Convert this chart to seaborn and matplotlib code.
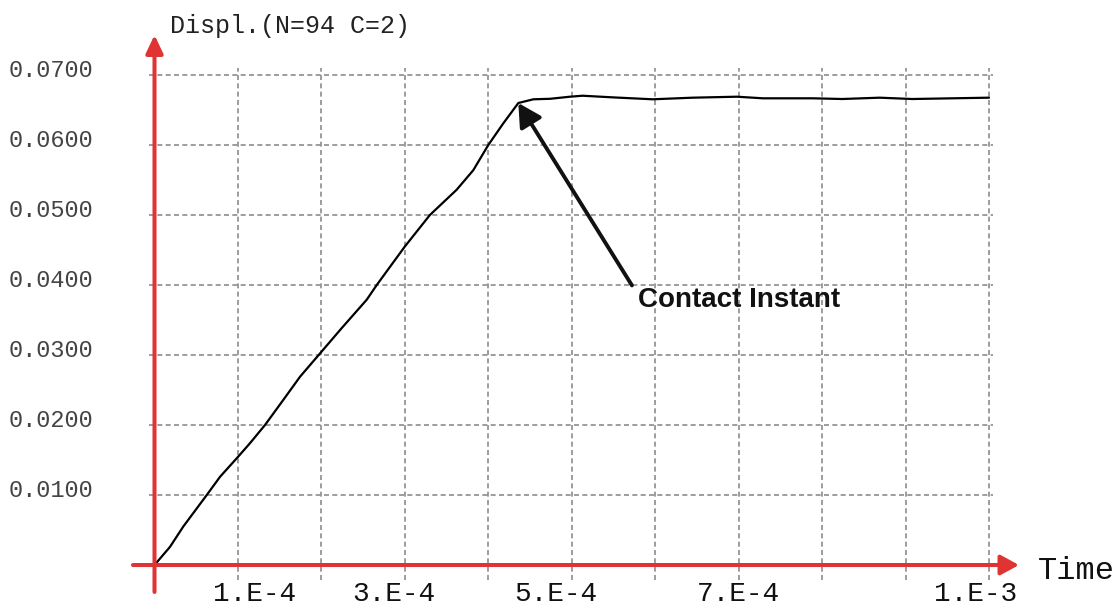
import matplotlib
matplotlib.use("Agg")
import matplotlib.pyplot as plt
import seaborn as sns
import pandas as pd
from matplotlib import font_manager
from matplotlib.transforms import ScaledTranslation

# Displacement history of node 94, component 2 (time in units of 1e-4 s)
time_e4 = [0.000, 0.186, 0.345, 0.626, 0.785, 1.004, 1.144, 1.324, 1.544,
           1.744, 2.003, 2.240, 2.543, 2.663, 3.000, 3.300, 3.620, 3.820,
           4.000, 4.180, 4.360, 4.540, 4.740, 4.980, 5.130, 5.500, 5.970,
           6.450, 6.980, 7.290, 7.890, 8.240, 8.690, 9.080, 10.000]
displ = [0.0000, 0.0026, 0.0055, 0.0100, 0.0126, 0.0155, 0.0174, 0.0200,
         0.0236, 0.0269, 0.0305, 0.0338, 0.0379, 0.0400, 0.0455, 0.0500,
         0.0536, 0.0564, 0.0600, 0.0631, 0.0660, 0.06653, 0.0666, 0.0669,
         0.06704, 0.0668, 0.06653, 0.06676, 0.0669, 0.06667, 0.06667,
         0.06657, 0.06676, 0.06657, 0.06676]
contact_index = 20  # first point of the plateau

grid_x = [0.0, 1e-4, 2e-4, 3e-4, 4e-4, 5e-4, 6e-4, 7e-4, 8e-4, 9e-4, 1e-3]
grid_y = [0.0, 0.01, 0.02, 0.03, 0.04, 0.05, 0.06, 0.07]
x_tick_values = [1e-4, 3e-4, 5e-4, 7e-4, 1e-3]
x_tick_labels = ["1.E-4", "3.E-4", "5.E-4", "7.E-4", "1.E-3"]
y_tick_values = [0.01, 0.02, 0.03, 0.04, 0.05, 0.06, 0.07]
y_tick_labels = ["0.0100", "0.0200", "0.0300", "0.0400", "0.0500", "0.0600", "0.0700"]

# horizontal nudges (pixels) of the time labels
x_label_shift_px = [17, -11, -16, 0, -13]

sns.set_theme(style="white")
plt.rcParams["font.family"] = ["Liberation Mono", "DejaVu Sans Mono"]

RED = "#e03434"
GRID = "#8c8c8c"
DPI = 100

df = pd.DataFrame({"time": [t * 1e-4 for t in time_e4], "displ": displ})

fig = plt.figure(figsize=(11.2, 6.13), dpi=DPI)
fig.patch.set_facecolor("white")
ax = fig.add_axes([149 / 1120, 33 / 613, 844 / 1120, 512 / 613])
ax.set_facecolor("white")

ax.set_xlim(-6.6e-6, 1.0048e-3)
ax.set_ylim(-0.00214, 0.0710)

for s in ax.spines.values():
    s.set_visible(False)


def label_for(value, values, labels):
    for v, lab in zip(values, labels):
        if abs(v - value) < 1e-12:
            return lab
    return ""


# dashed reference grid on every tick, labels only on some
ax.set_xticks(grid_x)
ax.set_xticklabels([label_for(v, x_tick_values, x_tick_labels) for v in grid_x],
                   fontsize=20, color="#111111")
ax.set_yticks(grid_y)
ax.set_yticklabels([label_for(v, y_tick_values, y_tick_labels) for v in grid_y],
                   fontsize=17, color="#444444")
ax.grid(which="major", color=GRID, linestyle=(0, (3, 2)), linewidth=1.2)
ax.tick_params(which="both", length=0)
ax.tick_params(axis="x", pad=1)
ax.tick_params(axis="y", pad=40)

shift_iter = iter(x_label_shift_px)
for lab in ax.get_xticklabels():
    if lab.get_text():
        dx = next(shift_iter)
        lab.set_transform(lab.get_transform() + ScaledTranslation(dx / DPI, 0, fig.dpi_scale_trans))
for lab in ax.get_yticklabels():
    lab.set_transform(lab.get_transform() + ScaledTranslation(0, 7 / DPI, fig.dpi_scale_trans))

sns.lineplot(data=df, x="time", y="displ", color="black", linewidth=1.6, ax=ax,
             zorder=4, sort=False)
ax.set_xlabel("")
ax.set_ylabel("")

# red coordinate axes with arrow heads
ax.annotate("", xy=(1.0308, 0.0), xytext=(-0.019, 0.0),
            xycoords=("axes fraction", "data"), textcoords=("axes fraction", "data"),
            arrowprops=dict(arrowstyle="-|>,head_length=0.55,head_width=0.3",
                            mutation_scale=20, color=RED, lw=2.9,
                            shrinkA=0, shrinkB=0),
            annotation_clip=False, zorder=5)
ax.annotate("", xy=(0.0, 1.0645), xytext=(0.0, -0.0234),
            xycoords=("data", "axes fraction"), textcoords=("data", "axes fraction"),
            arrowprops=dict(arrowstyle="-|>,head_length=0.55,head_width=0.26",
                            mutation_scale=20, color=RED, lw=2.9,
                            shrinkA=0, shrinkB=0),
            annotation_clip=False, zorder=5)

fig.text(170 / 1120, 1 - 26 / 613, "Displ.(N=94 C=2)", fontsize=18,
         color="#222222", va="center", ha="left")
fig.text(1038 / 1120, 1 - 571 / 613, "Time", fontsize=23,
         color="#111111", va="center", ha="left")

# callout for the contact instant
names = {f.name for f in font_manager.fontManager.ttflist}
if "Liberation Sans Narrow" in names:
    callout_font = dict(family="Liberation Sans Narrow", size=25)
else:
    callout_font = dict(family="Liberation Sans", size=20)

ax.annotate("Contact Instant",
            xy=(df["time"][contact_index], df["displ"][contact_index]),
            xytext=(5.794e-4, 0.0379), textcoords="data",
            ha="left", va="center", fontweight="bold", color="#111111",
            arrowprops=dict(arrowstyle="-|>,head_length=0.7,head_width=0.38",
                            mutation_scale=20, color="#111111", lw=2.8,
                            shrinkA=0, shrinkB=0, relpos=(-0.03, 1.05)),
            zorder=6, **callout_font)

fig.savefig("out.png", dpi=DPI, facecolor="white")
